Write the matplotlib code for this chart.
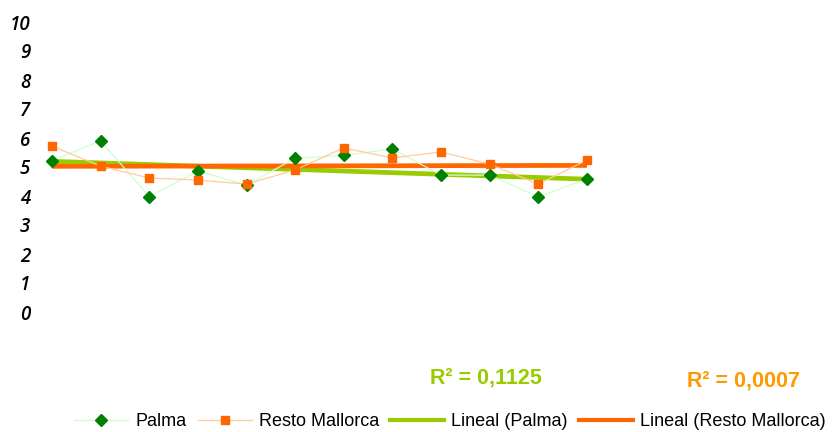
import numpy as np
import matplotlib
matplotlib.use("Agg")
import matplotlib.pyplot as plt
from matplotlib.lines import Line2D

# data (12 periods)
periods = list(range(1, 13))
palma = [5.22, 5.90, 3.98, 4.86, 4.38, 5.30, 5.40, 5.62, 4.72, 4.72, 3.97, 4.59]
resto = [5.72, 5.03, 4.62, 4.55, 4.41, 4.90, 5.66, 5.31, 5.52, 5.10, 4.41, 5.24]
yticks = list(range(0, 11))
r2_palma = "R² = 0,1125"
r2_resto = "R² = 0,0007"

c_palma_line = "#ccffcc"
c_palma_mark = "#008000"
c_resto_line = "#ffcc99"
c_resto_mark = "#ff6600"
c_trend_palma = "#99cc00"
c_trend_resto = "#ff6600"

plt.rcParams['font.family'] = ['Liberation Sans', 'DejaVu Sans']

fig = plt.figure(figsize=(8.32, 4.32), dpi=100)
# axes placed in pixels: x=1 -> 52px, x=12 -> 587px ; y=0 -> 312px, y=10 -> 22px
W, H = 832, 432
step = (587 - 52) / 11
left_px, right_px = 40, 820
ax = fig.add_axes([left_px / W, (H - 312) / H, (right_px - left_px) / W, 290 / H])
ax.set_xlim(1 + (left_px - 52) / step, 1 + (right_px - 52) / step)
ax.set_ylim(0, 10)

x = np.array(periods)
kp = np.polyfit(x, palma, 1)
kr = np.polyfit(x, resto, 1)
ax.plot(x, np.polyval(kp, x), color=c_trend_palma, lw=3.4, zorder=2, solid_capstyle='butt')
ax.plot(x, np.polyval(kr, x), color=c_trend_resto, lw=3.4, zorder=2.1, solid_capstyle='butt')

ax.plot(x, palma, color=c_palma_line, lw=0.9, zorder=3)
ax.plot(x, resto, color=c_resto_line, lw=0.9, zorder=3)
ax.plot(x, palma, ls='none', marker='D', ms=6.2, color=c_palma_mark, zorder=4)
ax.plot(x, resto, ls='none', marker='s', ms=6, color=c_resto_mark, zorder=4)

for s in ax.spines.values():
    s.set_visible(False)
ax.set_xticks([])
ax.set_yticks(yticks)
ax.tick_params(axis='y', length=0, pad=7)
for lab in ax.get_yticklabels():
    lab.set_fontfamily(['Open Sans', 'DejaVu Sans'])
    lab.set_fontstyle('italic')
    lab.set_fontweight('semibold')
    lab.set_fontsize(13.5)
    lab.set_color('#000000')

fig.text(430 / W, 1 - 378 / H, r2_palma, color=c_trend_palma, fontsize=15.5,
         fontweight='bold', va='center', ha='left')
fig.text(687 / W, 1 - 381 / H, r2_resto, color="#ff9900", fontsize=15.5,
         fontweight='bold', va='center', ha='left')

handles = [
    Line2D([], [], color=c_palma_line, lw=0.9, marker='D', ms=6, mfc=c_palma_mark, mec=c_palma_mark),
    Line2D([], [], color=c_resto_line, lw=0.9, marker='s', ms=6, mfc=c_resto_mark, mec=c_resto_mark),
    Line2D([], [], color=c_trend_palma, lw=3),
    Line2D([], [], color=c_trend_resto, lw=3),
]
labels = ["Palma", "Resto Mallorca", "Lineal (Palma)", "Lineal (Resto Mallorca)"]
fig.legend(handles, labels, ncol=4, loc='center right', bbox_to_anchor=(842 / W, 1 - 422 / H),
           frameon=False, fontsize=13, handlelength=3.0, handletextpad=0.4, columnspacing=0.6)

fig.savefig("out.png", dpi=100)
